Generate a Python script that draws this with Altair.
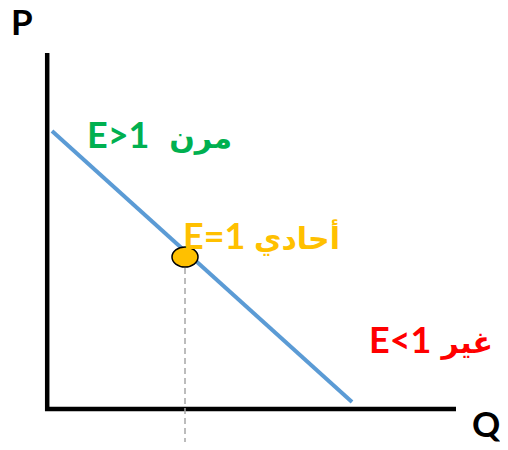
import altair as alt
import pandas as pd

# Demand line (Q, P)
line_q = [0.1, 7.6]
line_p = [6.925, 0.15]

# Unit-elastic point
point_q = [3.425]
point_p = [3.775]

# Dashed guide under the point
guide_q = [3.425, 3.425]
guide_p = [3.5, -1.2]

# Axes
vaxis_q = [-0.02, -0.02]
vaxis_p = [-0.075, 8.875]
haxis_q = [-0.075, 10.2]
haxis_p = [-0.025, -0.025]

# Latin labels (left-aligned)
lat_text = ["E>1", "E=1", "E<1"]
lat_q = [0.975, 3.375, 8.025]
lat_p = [6.5, 3.975, 1.375]
lat_col = ["#00B050", "#FFC000", "#FF0000"]

# Arabic labels (right-aligned)
ar_text = ["مرن", "أحادي", "غير"]
ar_q = [4.6, 7.3, 11.125]
ar_p = [6.5, 3.975, 1.375]
ar_col = ["#00B050", "#FFC000", "#FF0000"]

# Axis letters
ax_text = ["P", "Q"]
ax_q = [-0.925, 10.6]
ax_p = [9.325, -0.725]

xs = alt.Scale(domain=[-1, 11.3], nice=False, zero=False)
ys = alt.Scale(domain=[-0.85, 10], nice=False, zero=False)

def X(f="q"):
    return alt.X(f"{f}:Q", scale=xs, axis=None)

def Y(f="p"):
    return alt.Y(f"{f}:Q", scale=ys, axis=None)

FONT = "Lato, 'DejaVu Sans', sans-serif"

vax = alt.Chart(pd.DataFrame({"q": vaxis_q, "p": vaxis_p})).mark_line(
    color="black", strokeWidth=4.5).encode(x=X(), y=Y())
hax = alt.Chart(pd.DataFrame({"q": haxis_q, "p": haxis_p})).mark_line(
    color="black", strokeWidth=4.5).encode(x=X(), y=Y())

demand = alt.Chart(pd.DataFrame({"q": line_q, "p": line_p})).mark_line(
    color="#5B9BD5", strokeWidth=4).encode(x=X(), y=Y())

guide = alt.Chart(pd.DataFrame({"q": guide_q, "p": guide_p})).mark_line(
    color="#A6A6A6", strokeWidth=1.5, strokeDash=[6, 4]).encode(x=X(), y=Y())

pt = alt.Chart(pd.DataFrame({"q": point_q, "p": point_p})).mark_point(
    shape="M-1.3,0A1.3,1 0 1,0 1.3,0A1.3,1 0 1,0 -1.3,0Z",
    size=400, filled=True, fill="#FFC000", stroke="black", strokeWidth=1.5,
    opacity=1).encode(x=X(), y=Y())

lat = alt.Chart(pd.DataFrame({"q": lat_q, "p": lat_p, "t": lat_text, "c": lat_col})).mark_text(
    align="left", baseline="alphabetic", fontSize=36, fontWeight="bold", font=FONT
).encode(x=X(), y=Y(), text="t:N", color=alt.Color("c:N", scale=None))

ar = alt.Chart(pd.DataFrame({"q": ar_q, "p": ar_p, "t": ar_text, "c": ar_col})).mark_text(
    align="right", baseline="alphabetic", fontSize=30, fontWeight="bold", font=FONT
).encode(x=X(), y=Y(), text="t:N", color=alt.Color("c:N", scale=None))

axl = alt.Chart(pd.DataFrame({"q": ax_q, "p": ax_p, "t": ax_text})).mark_text(
    align="left", baseline="alphabetic", fontSize=35, fontWeight="bold", font=FONT,
    color="black"
).encode(x=X(), y=Y(), text="t:N")

chart = alt.layer(vax, hax, demand, guide, pt, lat, ar, axl).properties(
    width=492, height=434, autosize=alt.AutoSizeParams(type="none"), padding=0
).configure_view(stroke=None)

chart.save("out.html", embed_options={"renderer": "svg", "actions": False})
